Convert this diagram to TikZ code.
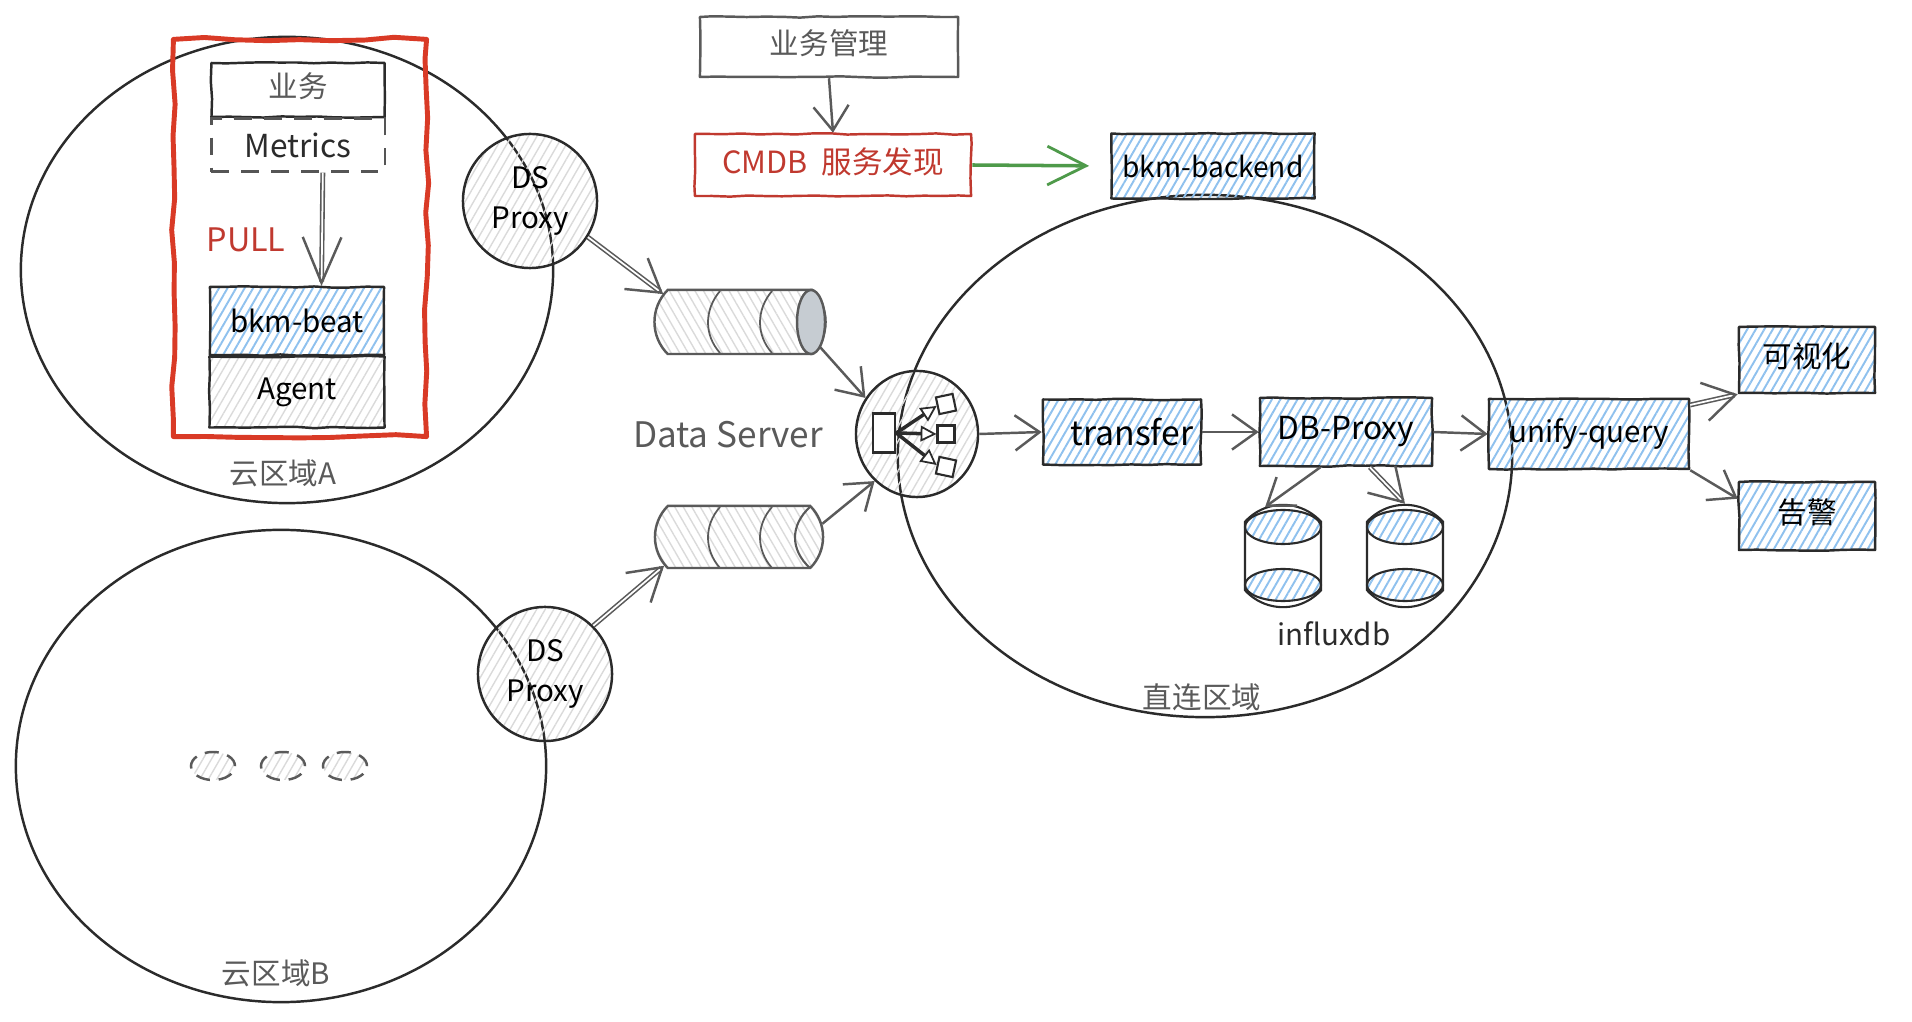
\documentclass[tikz,border=0pt]{standalone}
\usepackage{fontspec}
\setmainfont{Noto Sans CJK SC}
\usetikzlibrary{shapes.geometric,shapes.misc,arrows.meta,patterns.meta,decorations.pathmorphing}
\definecolor{inkdark}{HTML}{2B2B2B}
\definecolor{inkgray}{HTML}{5A5A5A}
\definecolor{hatchblue}{HTML}{8FC1EE}
\definecolor{hatchgray}{HTML}{DADADA}
\definecolor{capgray}{HTML}{C6CCD2}
\definecolor{sketchred}{HTML}{C0392F}
\definecolor{framered}{HTML}{D93A26}
\definecolor{sketchgreen}{HTML}{4E9A4A}
\tikzset{
  wobble/.style={decorate,decoration={random steps,segment length=5pt,amplitude=0.2pt}},
  sketchbox/.style={draw=inkdark,line width=0.7pt,line join=round,wobble,inner sep=0pt},
  bluehatch/.style={pattern={Lines[angle=60,distance=2.1pt,line width=0.55pt]},pattern color=hatchblue},
  grayhatch/.style={pattern={Lines[angle=60,distance=2.1pt,line width=0.4pt]},pattern color=hatchgray},
  bluebox/.style={sketchbox,bluehatch,text=black},
  graybox/.style={sketchbox,grayhatch,text=black},
  zone/.style={draw=inkdark,line width=0.7pt,ellipse,inner sep=0pt},
  grayzone/.style={zone,grayhatch},
  zonename/.style={text=inkgray},
  cjkup/.style={text depth=2.6pt},
  flowarrow/.style={draw=inkgray,line width=0.7pt,-{Straight Barb[length=7pt,width=10pt,line width=0.7pt]}},
  heavyarrow/.style={draw=inkgray,double=white,double distance=0.5pt,line width=0.45pt,-{Straight Barb[length=9pt,width=11pt,line width=0.7pt]}},
  queuetube/.style={rounded rectangle,rounded rectangle arc length=90,draw=inkgray,line width=0.7pt,inner sep=0pt,pattern={Lines[angle=-60,distance=2.1pt,line width=0.4pt]},pattern color=hatchgray},
  influxtube/.style={rounded rectangle,rounded rectangle arc length=96,rotate=90,draw=inkdark,line width=0.6pt,inner sep=0pt,minimum width=0.91cm,minimum height=0.76cm},
}
\begin{document}
\begin{tikzpicture}[x=0.01cm,y=-0.01cm,every node/.style={font=\fontsize{8.4}{10.5}\selectfont}]
\pgfmathsetseed{11}
\useasboundingbox (0,0) rectangle (1912,1022);
\node[zone,minimum width=5.32cm,minimum height=4.66cm] (cloudA) at (287,270) {};
\node[zone,minimum width=5.30cm,minimum height=4.72cm] (cloudB) at (281,766) {};
\node[zone,minimum width=6.14cm,minimum height=5.22cm] (direct) at (1205,456) {};
\node[zonename] (nameA) at (283,473) {云区域\textit{A}};
\node[zonename] (nameB) at (276,973) {云区域B};
\node[zonename] (nameDirect) at (1202,697) {直连区域};

\node[sketchbox,draw=framered,line width=1.4pt,decoration={random steps,segment length=9pt,amplitude=0.7pt},minimum width=2.53cm,minimum height=3.97cm] (focus) at (300,238) {};
\node[sketchbox,text=inkgray,cjkup,minimum width=1.73cm,minimum height=0.54cm] (biz) at (298,90) {业务};
\node[draw=inkdark!80,line width=0.6pt,dash pattern=on 5pt off 3.5pt,text=inkdark,font=\fontsize{9}{11}\selectfont,minimum width=1.73cm,minimum height=0.53cm,inner sep=0pt] (metrics) at (298,145) {Metrics};
\node[bluebox,minimum width=1.74cm,minimum height=0.68cm] (beat) at (297,321) {bkm-beat};
\node[graybox,minimum width=1.75cm,minimum height=0.71cm] (agent) at (297,392) {Agent};
\node[text=sketchred,font=\fontsize{9.2}{11}\selectfont] (pull) at (246,240) {PULL};
\draw[heavyarrow,-{Straight Barb[length=13pt,width=11pt,line width=0.7pt]}] (metrics.-48.5) -- (beat.55);

\node[grayzone,align=center,text=black,minimum width=1.34cm,minimum height=1.34cm] (dsA) at (530,201) {DS\\[1pt]Proxy};
\node[grayzone,align=center,text=black,minimum width=1.34cm,minimum height=1.34cm] (dsB) at (545,674) {DS\\[1pt]Proxy};
\foreach \n/\x in {dotA/213,dotB/283,dotC/345}{
  \node[grayzone,draw=inkgray,dash pattern=on 4pt off 2.5pt,minimum width=0.44cm,minimum height=0.28cm] (\n) at (\x,766) {};}

\node[queuetube,minimum width=1.71cm,minimum height=0.64cm] (queueA) at (740,322) {};
\node[queuetube,minimum width=1.68cm,minimum height=0.62cm] (queueB) at (739,537) {};
\draw[draw=inkgray,line width=0.7pt,fill=capgray] (811,322) ellipse (14 and 32);
\draw[inkgray,line width=0.6pt] (810,507) .. controls (790,525) and (790,550) .. (810,568);
\foreach \x in {720,772}{
  \draw[inkgray,line width=0.5pt] (\x,291) .. controls (\x-16,310) and (\x-16,335) .. (\x,353);
  \draw[inkgray,line width=0.5pt] (\x,507) .. controls (\x-16,525) and (\x-16,550) .. (\x,568);}
\node[text=inkgray,font=\fontsize{10}{12}\selectfont] (dataServer) at (728,435) {Data Server};

\node[grayzone,minimum width=1.22cm,minimum height=1.26cm] (switch) at (917,434) {};
\node[draw=inkdark,line width=0.7pt,fill=white,minimum width=0.22cm,minimum height=0.39cm,inner sep=0pt] (hub) at (884,433) {};
\foreach \n/\y/\a in {leafA/404/12,leafB/434/0,leafC/467/-12}{
  \node[draw=inkdark,line width=0.6pt,fill=white,rotate=\a,minimum size=0.17cm,inner sep=0pt] (\n) at (946,\y) {};
  \draw[inkdark,line width=1pt,-{Triangle[open,length=4.5pt,width=4.5pt,line width=0.5pt,fill=white]}] (hub.east) -- (\n.west);}

\node[bluebox,font=\fontsize{9.6}{12}\selectfont,minimum width=1.58cm,minimum height=0.65cm] (transfer) at (1122,432) {\hspace{5.7pt}transfer};
\node[bluebox,font=\fontsize{9}{11}\selectfont,minimum width=1.72cm,minimum height=0.68cm] (dbProxy) at (1346,432) {DB-Proxy};
\node[bluebox,minimum width=2.00cm,minimum height=0.70cm] (unify) at (1589,434) {unify-query};
\node[bluebox,cjkup,minimum width=1.36cm,minimum height=0.66cm] (visual) at (1807,360) {可视化};
\node[bluebox,cjkup,minimum width=1.36cm,minimum height=0.68cm] (alarm) at (1807,516) {告警};
\foreach \n/\x in {influxA/1283,influxB/1405}{
  \node[influxtube] (\n) at (\x,556) {};
  \draw[draw=inkdark,line width=0.6pt,bluehatch] (\x,527) ellipse (38 and 17);
  \draw[draw=inkdark,line width=0.6pt,bluehatch] (\x,585) ellipse (38 and 16);}
\node[text=inkdark] (influx) at (1334,634) {influxdb};

\node[sketchbox,draw=inkgray,text=inkgray,cjkup,minimum width=2.58cm,minimum height=0.60cm] (bizMgmt) at (829,47) {业务管理};
\node[sketchbox,draw=sketchred,text=sketchred,cjkup,font=\fontsize{8.7}{11}\selectfont,minimum width=2.76cm,minimum height=0.62cm] (cmdb) at (833,165) {CMDB\hspace{2pt} 服务发现};
\node[bluebox,font=\fontsize{8}{10}\selectfont,minimum width=2.03cm,minimum height=0.65cm] (backend) at (1213,166) {bkm-backend};

\draw[flowarrow] (bizMgmt.south) -- (cmdb.north);
\draw[flowarrow,draw=sketchgreen,line width=1pt,-{Straight Barb[length=11pt,width=11pt,line width=0.8pt]},shorten >=6pt] (cmdb.east) -- (backend.west);
\draw[heavyarrow] (dsA.-32) -- (queueA.160);
\draw[heavyarrow] (dsB.45) -- (queueB.201);
\draw[flowarrow] (queueA.-17) -- (switch.145);
\draw[flowarrow] (queueB.9) -- (switch.228);
\draw[flowarrow] (switch.east) -- (transfer.west);
\draw[flowarrow] (transfer.east) -- (dbProxy.west);
\draw[flowarrow] (dbProxy.east) -- (unify.west);
\draw[heavyarrow] (unify.16) -- (visual.south west);
\draw[flowarrow] (unify.south east) -- (alarm.166);
\draw[flowarrow] (dbProxy.234) -- (influxA.20);
\draw[heavyarrow] (dbProxy.-56) -- (influxB.east);
\end{tikzpicture}
\end{document}
